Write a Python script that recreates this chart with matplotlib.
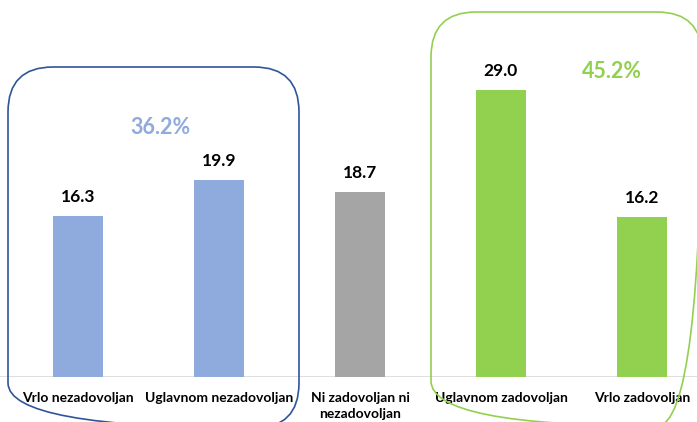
import matplotlib.pyplot as plt
from matplotlib.patches import FancyBboxPatch

# podaci
kategorije = ['Vrlo nezadovoljan', 'Uglavnom nezadovoljan', 'Ni zadovoljan ni\nnezadovoljan',
              'Uglavnom zadovoljan', 'Vrlo zadovoljan']
vrijednosti = [16.3, 19.9, 18.7, 29.0, 16.2]
boje = ['#8FAADC', '#8FAADC', '#A5A5A5', '#92D050', '#92D050']
grupe = ['36.2%', '45.2%']

plt.rcParams['font.family'] = ['Lato', 'DejaVu Sans']

W, H = 697, 422
fig = plt.figure(figsize=(W / 100, H / 100), dpi=100)
# osi: od lijevog do desnog ruba, dno na baznoj liniji (y=377 px)
ax = fig.add_axes([0, (H - 377) / H, 1, 377 / H])
x = list(range(len(kategorije)))
ax.bar(x, vrijednosti, width=0.355, color=boje, zorder=2)
ax.set_xlim(-0.553, 4.390)
ax.set_ylim(0, 38.16)
ax.axhline(0, color='#D9D9D9', lw=1.2, zorder=1)
for s in ax.spines.values():
    s.set_visible(False)
ax.set_yticks([])
ax.set_xticks(x)
ax.set_xticklabels(kategorije, fontsize=10, fontweight='bold', linespacing=1.35)
ax.tick_params(axis='x', length=0, pad=11)

for xi, v in zip(x, vrijednosti):
    ax.annotate(f'{v:.1f}', (xi, v), xytext=(0, 8), textcoords='offset points',
                ha='center', va='bottom', fontsize=12.5, fontweight='bold')

# preklop u pikselima za zaobljene okvire i postotke
ov = fig.add_axes([0, 0, 1, 1], facecolor='none')
ov.set_xlim(0, W)
ov.set_ylim(H, 0)
ov.axis('off')

def okvir(x0, y0, x1, y1, boja):
    p = FancyBboxPatch((x0, y0), x1 - x0, y1 - y0,
                       boxstyle='round,pad=0,rounding_size=45',
                       fill=False, edgecolor=boja, lw=1.2, clip_on=False)
    ov.add_patch(p)

okvir(8, 67, 299, 428, '#2F5597')
okvir(431, 12, 702, 426, '#92D050')

ov.text(160, 127, grupe[0], color='#8FAADC', fontsize=15.5,
        fontweight='bold', ha='center', va='center')
ov.text(612, 71, grupe[1], color='#92D050', fontsize=15.5,
        fontweight='bold', ha='center', va='center')

fig.savefig('out.png', dpi=100)
